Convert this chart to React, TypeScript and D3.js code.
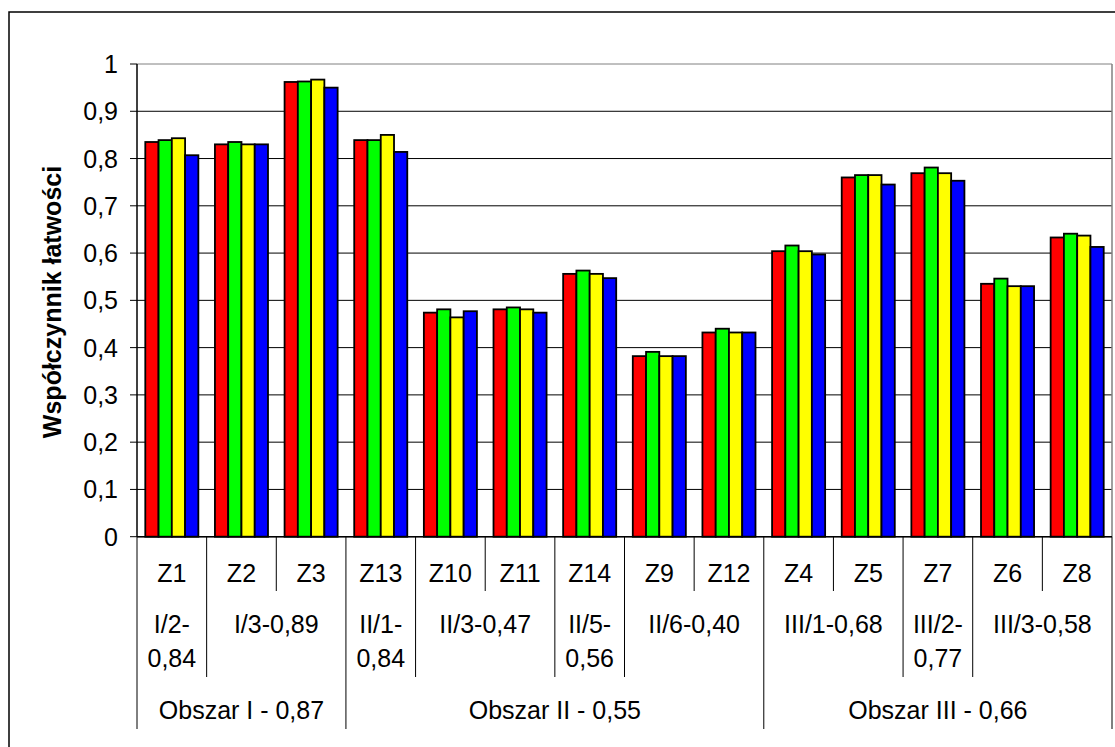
import React from "react";
import * as d3 from "d3";

const categories = ["Z1", "Z2", "Z3", "Z13", "Z10", "Z11", "Z14", "Z9", "Z12", "Z4", "Z5", "Z7", "Z6", "Z8"];
const seriesRed = [0.835, 0.830, 0.962, 0.839, 0.474, 0.481, 0.556, 0.382, 0.432, 0.604, 0.760, 0.769, 0.535, 0.633];
const seriesGreen = [0.839, 0.835, 0.963, 0.839, 0.481, 0.485, 0.563, 0.391, 0.440, 0.616, 0.765, 0.781, 0.546, 0.641];
const seriesYellow = [0.843, 0.830, 0.967, 0.850, 0.464, 0.481, 0.556, 0.382, 0.432, 0.604, 0.765, 0.769, 0.530, 0.637];
const seriesBlue = [0.807, 0.830, 0.950, 0.814, 0.477, 0.474, 0.547, 0.382, 0.432, 0.597, 0.745, 0.753, 0.530, 0.613];
const seriesNames = ["s1", "s2", "s3", "s4"];
const seriesColors = ["#ff0000", "#00ff00", "#ffff00", "#0000ff"];

const level2Labels = [["I/2-", "0,84"], ["I/3-0,89"], ["II/1-", "0,84"], ["II/3-0,47"], ["II/5-", "0,56"], ["II/6-0,40"], ["III/1-0,68"], ["III/2-", "0,77"], ["III/3-0,58"]];
const level2Counts = [1, 2, 1, 2, 1, 2, 2, 1, 2];
const level3Labels = ["Obszar I - 0,87", "Obszar II - 0,55", "Obszar III - 0,66"];
const level3Counts = [3, 6, 5];
const yTicks = [0, 0.1, 0.2, 0.3, 0.4, 0.5, 0.6, 0.7, 0.8, 0.9, 1];
const yTitle = "Współczynnik łatwości";

const W = 1115, H = 747;
const left = 137, right = 1112, top = 64, bottom = 536.7;
const FONT = "'Liberation Sans', Arial, sans-serif";
const FS = 25;

export default function App() {
  const x = d3.scaleBand<string>().domain(categories).range([left, right]).padding(0);
  const x1 = d3.scaleBand<string>().domain(seriesNames).range([0, x.bandwidth()]).paddingInner(0).paddingOuter(0.625);
  const y = d3.scaleLinear().domain([0, 1]).range([bottom, top]);
  const allSeries = [seriesRed, seriesGreen, seriesYellow, seriesBlue];
  const fmt = (v: number) => (v === 0 || v === 1 ? String(v) : d3.format(".1f")(v).replace(".", ","));

  const bounds = (counts: number[]) => {
    const out: number[] = [0];
    counts.forEach((c) => out.push(out[out.length - 1] + c));
    return out;
  };
  const b2 = bounds(level2Counts);
  const b3 = bounds(level3Counts);
  const row1Bottom = 591, row2Bottom = 677, row3Bottom = 729;
  const edgeX = (i: number) => (i < categories.length ? x(categories[i])! : right);
  const sepLines = d3.range(categories.length + 1).map((i) => {
    let yb = row1Bottom;
    if (b2.includes(i)) yb = row2Bottom;
    if (b3.includes(i)) yb = row3Bottom;
    return { xp: edgeX(i), yb };
  });

  return (
    <svg width={W} height={H} style={{ position: "absolute", left: 0, top: 0, background: "#fff" }} fontFamily={FONT}>
      <rect x={0} y={0} width={W} height={H} fill="#fff" />
      <path d={`M9,${H + 2} L9,12 L${W + 2},12`} fill="none" stroke="#000" strokeWidth={1.5} />
      {yTicks.map((t) => (
        <line key={t} x1={left} x2={right} y1={y(t)} y2={y(t)} stroke={t === 1 ? "#808080" : "#000"} strokeWidth={1} />
      ))}
      <line x1={right} x2={right} y1={top} y2={bottom} stroke="#808080" strokeWidth={1.5} />
      {allSeries.map((s, si) =>
        s.map((v, ci) => (
          <rect
            key={`${si}-${ci}`}
            x={x(categories[ci])! + x1(seriesNames[si])!}
            y={y(v)}
            width={x1.bandwidth()}
            height={y(0) - y(v)}
            fill={seriesColors[si]}
            stroke="#000"
            strokeWidth={1.8}
          />
        ))
      )}
      <line x1={left} x2={left} y1={top} y2={bottom} stroke="#000" strokeWidth={1.5} />
      <line x1={left} x2={right} y1={bottom} y2={bottom} stroke="#000" strokeWidth={1.5} />
      {yTicks.map((t) => (
        <g key={`t${t}`}>
          <line x1={left - 7} x2={left} y1={y(t)} y2={y(t)} stroke="#000" strokeWidth={1} />
          <text x={118} y={y(t)} dy="0.36em" textAnchor="end" fontSize={FS}>{fmt(t)}</text>
        </g>
      ))}
      <text transform={`translate(61,302) rotate(-90)`} textAnchor="middle" fontSize={FS} fontWeight="bold">{yTitle}</text>
      {sepLines.map((s, i) => (
        <line key={`s${i}`} x1={s.xp} x2={s.xp} y1={bottom} y2={s.yb} stroke="#000" strokeWidth={1} />
      ))}
      {categories.map((c) => (
        <text key={c} x={x(c)! + x.bandwidth() / 2} y={582} textAnchor="middle" fontSize={FS}>{c}</text>
      ))}
      {level2Labels.map((lines, i) => {
        const cx = (edgeX(b2[i]) + edgeX(b2[i + 1])) / 2;
        return lines.map((ln, li) => (
          <text key={`l2-${i}-${li}`} x={cx} y={633 + li * 33.5} textAnchor="middle" fontSize={FS}>{ln}</text>
        ));
      })}
      {level3Labels.map((lab, i) => {
        const cx = (edgeX(b3[i]) + edgeX(b3[i + 1])) / 2;
        return <text key={`l3-${i}`} x={cx} y={719} textAnchor="middle" fontSize={FS}>{lab}</text>;
      })}
    </svg>
  );
}
